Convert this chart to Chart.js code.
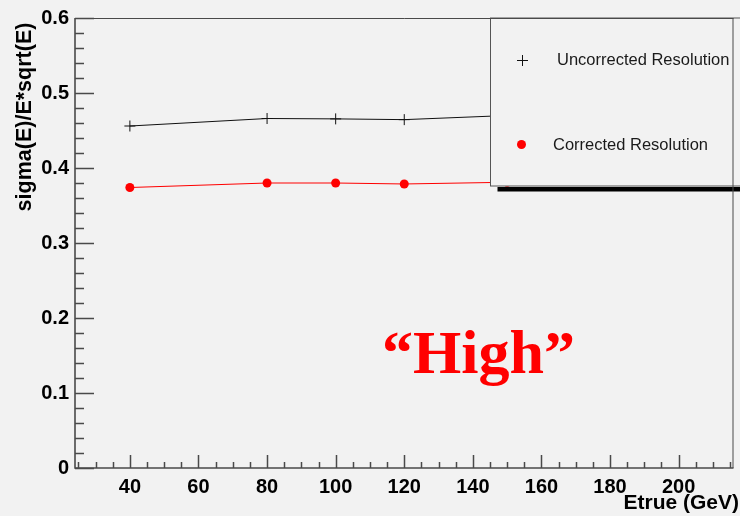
<!DOCTYPE html>
<html>
<head>
<meta charset="utf-8">
<script src="https://cdn.jsdelivr.net/npm/chart.js@4.4.1/dist/chart.umd.min.js"></script>
<style>
  html, body { margin: 0; padding: 0; background: #f2f2f2; }
  canvas { display: block; }
</style>
</head>
<body>
<canvas id="c" width="740" height="516"></canvas>
<script>
// Beam energies (GeV) and resolution values sigma(E)/E*sqrt(E)
const energies = [40, 80, 100, 120, 150];
const uncorrected = [0.456, 0.466, 0.4655, 0.4645, 0.470];
const corrected = [0.374, 0.380, 0.380, 0.3787, 0.381];

const seriesNames = ['Uncorrected Resolution', 'Corrected Resolution'];
const xTickValues = [40, 60, 80, 100, 120, 140, 160, 180, 200];
const yTickValues = [0, 0.1, 0.2, 0.3, 0.4, 0.5, 0.6];
const yTickLabels = ['0', '0.1', '0.2', '0.3', '0.4', '0.5', '0.6'];
const xTitle = 'Etrue (GeV)';
const yTitle = 'sigma(E)/E*sqrt(E)';
const annotation = '\u201CHigh\u201D';

const BG = '#f2f2f2';
const AXIS = '#4a4a4a';
const SANS = '"Liberation Sans", Arial, sans-serif';

const rootStyle = {
  id: 'rootStyle',
  beforeDraw(chart) {
    const ctx = chart.ctx;
    ctx.save();
    ctx.fillStyle = BG;
    ctx.fillRect(0, 0, chart.width, chart.height);
    ctx.restore();
  },
  afterDatasetsDraw(chart) {
    const ctx = chart.ctx;
    const a = chart.chartArea;
    ctx.save();
    // legend shadow and box
    const lx = 490.5, ly = a.top, lw = 260, lh = 168;
    ctx.fillStyle = '#000';
    ctx.fillRect(lx + 7, ly + lh + 1, lw, 4.5);
    ctx.fillStyle = BG;
    ctx.fillRect(lx, ly, lw, lh);
    ctx.strokeStyle = '#555';
    ctx.lineWidth = 1;
    ctx.strokeRect(lx, ly, lw, lh);

    // legend entries
    ctx.strokeStyle = '#111';
    ctx.lineWidth = 1;
    ctx.beginPath();
    ctx.moveTo(517, 60.5); ctx.lineTo(528, 60.5);
    ctx.moveTo(522.5, 55); ctx.lineTo(522.5, 66);
    ctx.stroke();
    ctx.fillStyle = '#ff0000';
    ctx.beginPath();
    ctx.arc(521.5, 144.5, 4.5, 0, Math.PI * 2);
    ctx.fill();

    ctx.fillStyle = '#1a1a1a';
    ctx.font = '16.5px ' + SANS;
    ctx.textBaseline = 'middle';
    ctx.textAlign = 'left';
    ctx.fillText(seriesNames[0], 557, 60);
    ctx.fillText(seriesNames[1], 553, 145);

    // annotation
    ctx.fillStyle = '#ff0000';
    ctx.font = 'bold 62px "Liberation Serif", "Times New Roman", serif';
    ctx.textBaseline = 'alphabetic';
    ctx.fillText(annotation, 382, 373);
    ctx.restore();
  },
  afterDraw(chart) {
    const ctx = chart.ctx;
    const a = chart.chartArea;
    const xs = chart.scales.x, ys = chart.scales.y;
    ctx.save();
    ctx.strokeStyle = AXIS;
    ctx.lineWidth = 1.6;
    // axes
    ctx.beginPath();
    ctx.moveTo(a.left, a.top); ctx.lineTo(a.left, a.bottom); ctx.lineTo(a.right, a.bottom);
    ctx.stroke();
    // frame top / right
    ctx.lineWidth = 1;
    ctx.beginPath();
    ctx.moveTo(a.left, a.top + 0.5); ctx.lineTo(a.right, a.top + 0.5);
    ctx.moveTo(a.right - 0.5, a.top); ctx.lineTo(a.right - 0.5, a.bottom);
    ctx.stroke();

    // y ticks (inside)
    ctx.lineWidth = 1.5;
    ctx.beginPath();
    for (let i = 0; i <= 30; i++) {
      const v = i * 0.02;
      const y = Math.round(ys.getPixelForValue(v)) + 0.5;
      const len = (i % 5 === 0) ? 19 : 9;
      ctx.moveTo(a.left, y); ctx.lineTo(a.left + len, y);
    }
    // x ticks (inside)
    for (let v = 25; v <= 215; v += 5) {
      const x = Math.round(xs.getPixelForValue(v)) + 0.5;
      const len = (v % 20 === 0) ? 13 : 6;
      ctx.moveTo(x, a.bottom); ctx.lineTo(x, a.bottom - len);
    }
    ctx.stroke();

    // axis titles
    ctx.fillStyle = '#000';
    ctx.font = 'bold 21px ' + SANS;
    ctx.textAlign = 'right';
    ctx.textBaseline = 'alphabetic';
    ctx.fillText(xTitle, 739, 509);

    ctx.translate(31, 117);
    ctx.rotate(-Math.PI / 2);
    ctx.textAlign = 'center';
    ctx.font = 'bold 21.5px ' + SANS;
    ctx.fillText(yTitle, 0, 0);
    ctx.restore();
  }
};

new Chart(document.getElementById('c'), {
  type: 'line',
  data: {
    datasets: [
      {
        label: seriesNames[0],
        data: energies.map((e, i) => ({ x: e, y: uncorrected[i] })),
        borderColor: '#111',
        borderWidth: 1,
        pointStyle: 'cross',
        pointRadius: 5.5,
        pointBorderColor: '#111',
        pointBorderWidth: 1,
        pointBackgroundColor: '#111',
        tension: 0,
        fill: false
      },
      {
        label: seriesNames[1],
        data: energies.map((e, i) => ({ x: e, y: corrected[i] })),
        borderColor: '#ff0000',
        borderWidth: 1,
        pointStyle: 'circle',
        pointRadius: 4.5,
        pointBorderWidth: 0,
        pointBackgroundColor: '#ff0000',
        tension: 0,
        fill: false
      }
    ]
  },
  options: {
    responsive: false,
    animation: false,
    devicePixelRatio: 1,
    layout: { padding: { top: 17, right: 0, left: 0, bottom: 0 } },
    plugins: { legend: { display: false }, tooltip: { enabled: false } },
    scales: {
      x: {
        type: 'linear',
        min: 24,
        max: 216,
        grid: { display: false, drawTicks: false },
        border: { display: false },
        afterBuildTicks: s => { s.ticks = xTickValues.map(v => ({ value: v })); },
        afterFit: s => { s.height = 48; },
        ticks: {
          color: '#000',
          font: { family: SANS, size: 20, weight: 'bold' },
          padding: 7,
          maxRotation: 0,
          autoSkip: false
        }
      },
      y: {
        type: 'linear',
        min: 0,
        max: 0.6,
        grid: { display: false, drawTicks: false },
        border: { display: false },
        afterBuildTicks: s => { s.ticks = yTickValues.map(v => ({ value: v })); },
        afterFit: s => { s.width = 75; },
        ticks: {
          color: '#000',
          font: { family: SANS, size: 20, weight: 'bold' },
          padding: 6,
          autoSkip: false,
          callback: (v, i) => yTickLabels[i]
        }
      }
    }
  },
  plugins: [rootStyle]
});
</script>
</body>
</html>
